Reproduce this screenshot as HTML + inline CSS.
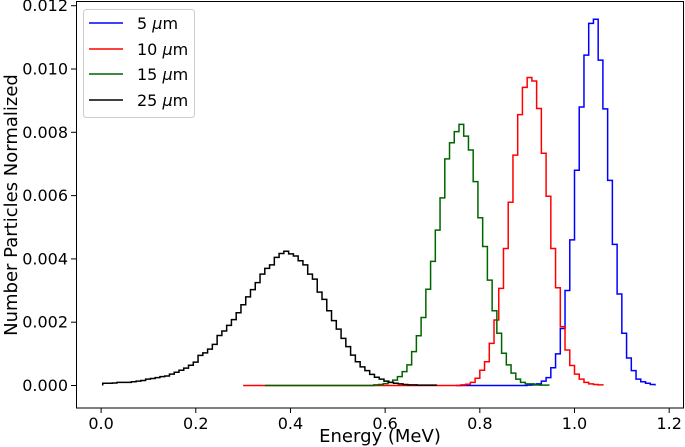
<!DOCTYPE html>
<html><head><meta charset="utf-8">
<style>
body{margin:0;background:#fff;}
svg{display:block;font-family:"DejaVu Sans","Liberation Sans",sans-serif;}
</style></head>
<body>
<svg id="chart" width="685" height="447" viewBox="0 0 685 447" xmlns="http://www.w3.org/2000/svg">
<g id="ticks"></g>
<g id="series"></g>
<rect x="76.5" y="1.5" width="607" height="406.5" fill="none" stroke="#000" stroke-width="1"/>
<text x="380" y="442" font-size="18" text-anchor="middle">Energy (MeV)</text>
<text transform="translate(17,205) rotate(-90)" font-size="18" text-anchor="middle">Number Particles Normalized</text>
<g>
<rect x="83.5" y="9.5" width="111" height="108" rx="3" fill="#fff" fill-opacity="0.8" stroke="#ccc"/>
<g><line x1="89" y1="23" x2="123" y2="23" stroke="#0000ff" stroke-width="1.5"/><text x="137" y="29" font-size="16">5 <tspan font-style="italic">μ</tspan>m</text></g>
<g><line x1="89" y1="49" x2="123" y2="49" stroke="#ff0000" stroke-width="1.5"/><text x="137" y="55" font-size="16">10 <tspan font-style="italic">μ</tspan>m</text></g>
<g><line x1="89" y1="74" x2="123" y2="74" stroke="#006400" stroke-width="1.5"/><text x="137" y="80" font-size="16">15 <tspan font-style="italic">μ</tspan>m</text></g>
<g><line x1="89" y1="100" x2="123" y2="100" stroke="#000" stroke-width="1.5"/><text x="137" y="106" font-size="16">25 <tspan font-style="italic">μ</tspan>m</text></g>
</g>
</svg>
<script>
const xTicks=[0,0.2,0.4,0.6,0.8,1.0,1.2];
const xTickLabels=["0.0","0.2","0.4","0.6","0.8","1.0","1.2"];
const yTicks=[0,0.002,0.004,0.006,0.008,0.010,0.012];
const yTickLabels=["0.000","0.002","0.004","0.006","0.008","0.010","0.012"];
const seriesNames=["5um","10um","15um","25um"];
const seriesColors=["#0000ff","#ff0000","#006400","#000000"];
const binStarts=[0.75,0.30,0.346,0.0034];
const binWidths=[0.01,0.01,0.01,0.01007];
const blueValues=[0,0,0,0,0,0,0,0,0,0,0,0,0,0,0,0.00001,0.00002,0.00005,0.00014,0.00025,0.00056,0.001,0.0018,0.003,0.0046,0.0068,0.0088,0.01044,0.01144,0.01157,0.01028,0.00874,0.00648,0.00446,0.00289,0.00165,0.00087,0.00047,0.0002,0.00012,0.00007,0.00003];
const redValues=[0,0,0,0,0,0,0,0,0,0,0,0,0,0,0,0,0,0,0,0,0,0,0,0,0,0,0,0,0,0,0,0,0,0,0,0,0,0,0,0,0,0,0,0,0,0,0.00002,0.00004,0.0001,0.00023,0.00048,0.00075,0.00133,0.00207,0.00307,0.00433,0.00579,0.00728,0.00856,0.00942,0.00973,0.00962,0.00875,0.00734,0.00598,0.00433,0.00309,0.00186,0.00112,0.00063,0.00036,0.0002,0.0001,0.00005,0.00003,0.00002];
const greenValues=[0,0,0,0,0,0,0,0,0,0,0,0,0,0,0,0,0,0,0,0,0,0,0,0.00002,0.00003,0.00006,0.0001,0.00017,0.00028,0.00044,0.00065,0.00107,0.00157,0.00215,0.00304,0.00392,0.00491,0.00593,0.00716,0.00767,0.00802,0.00825,0.00788,0.00744,0.00644,0.0053,0.00439,0.00333,0.00236,0.00165,0.00102,0.00065,0.00039,0.0002,0.0001,0.00005,0.00005,0.00002,0.00001,0.00001];
const blackValues=[0.00007,0.00007,0.00008,0.0001,0.0001,0.0001,0.00012,0.00014,0.00016,0.0002,0.00022,0.00025,0.00028,0.0003,0.00036,0.00042,0.00048,0.00055,0.00064,0.00074,0.00095,0.00103,0.00115,0.0013,0.00158,0.00172,0.0019,0.00208,0.0023,0.00255,0.0028,0.00303,0.00325,0.00352,0.0037,0.00381,0.00405,0.00417,0.00424,0.00416,0.00409,0.00394,0.00381,0.00352,0.00336,0.00295,0.00272,0.00236,0.00205,0.00178,0.00149,0.00123,0.00096,0.00075,0.00059,0.00047,0.00035,0.00026,0.0002,0.00014,0.0001,0.00007,0.00005,0.00003,0.00002,0.00002,0.00001,0.00001,0.00001,0.00001];
const allValues=[blueValues,redValues,greenValues,blackValues];

const NS="http://www.w3.org/2000/svg";
function xs(v){return 101.1+v*473.4;}
function ys(v){return 385.5-v*31650;}

const tg=document.getElementById('ticks');
xTicks.forEach((t,i)=>{
  const l=document.createElementNS(NS,'line');
  l.setAttribute('x1',xs(t));l.setAttribute('x2',xs(t));l.setAttribute('y1',408);l.setAttribute('y2',413);
  l.setAttribute('stroke','#000');
  
  
  tg.appendChild(l);
  const tx=document.createElementNS(NS,'text');
  tx.setAttribute('x',xs(t));tx.setAttribute('y',429);tx.setAttribute('font-size','16');tx.setAttribute('text-anchor','middle');
  tx.textContent=xTickLabels[i];
  
  
  tg.appendChild(tx);
});
yTicks.forEach((t,i)=>{
  const l=document.createElementNS(NS,'line');
  l.setAttribute('x1',71);l.setAttribute('x2',76.5);l.setAttribute('y1',ys(t));l.setAttribute('y2',ys(t));
  l.setAttribute('stroke','#000');
  
  
  tg.appendChild(l);
  const tx=document.createElementNS(NS,'text');
  tx.setAttribute('x',68);tx.setAttribute('y',ys(t)+5.5);tx.setAttribute('font-size','16');tx.setAttribute('text-anchor','end');
  tx.textContent=yTickLabels[i];
  
  
  tg.appendChild(tx);
});

const sg=document.getElementById('series');
allValues.forEach((vals,s)=>{
  const s0=binStarts[s],w=binWidths[s];
  let d='M'+xs(s0).toFixed(2)+','+ys(0).toFixed(2);
  vals.forEach((v,i)=>{
    d+=' L'+xs(s0+i*w).toFixed(2)+','+ys(v).toFixed(2)+' L'+xs(s0+(i+1)*w).toFixed(2)+','+ys(v).toFixed(2);
  });
  d+=' L'+xs(s0+vals.length*w).toFixed(2)+','+ys(0).toFixed(2);
  const p=document.createElementNS(NS,'path');
  p.setAttribute('d',d);p.setAttribute('fill','none');p.setAttribute('stroke',seriesColors[s]);p.setAttribute('stroke-width','1.5');
  
  
  sg.appendChild(p);
});
</script>
</body></html>
